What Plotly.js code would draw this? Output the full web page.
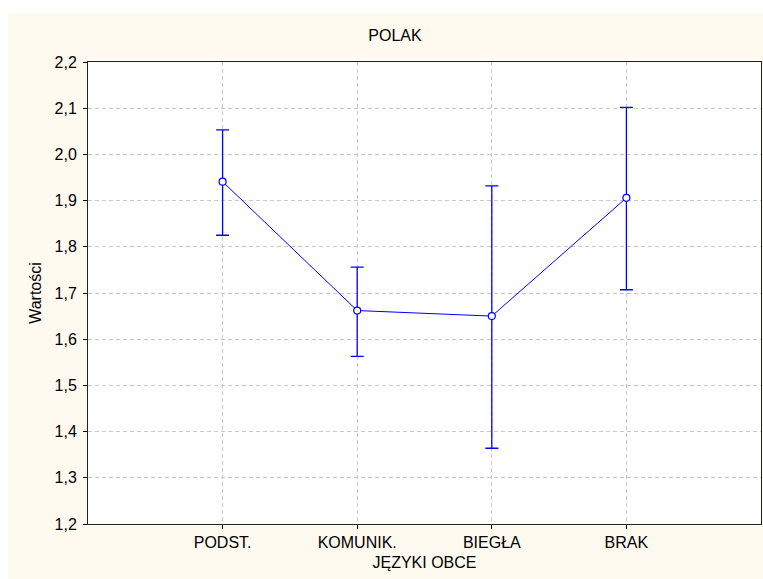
<!DOCTYPE html>
<html>
<head>
<meta charset="utf-8">
<script src="https://cdn.plot.ly/plotly-3.0.1.min.js"></script>
<style>html,body{margin:0;padding:0;background:#fff;}#chart{width:763px;height:579px;}</style>
</head>
<body>
<div id="chart"></div>
<script>
const categories = ["PODST.", "KOMUNIK.", "BIEGŁA", "BRAK"];
const catPositions = [1, 2, 3, 4];
const means = [1.941, 1.662, 1.650, 1.906];
const upper = [2.053, 1.756, 1.932, 2.102];
const lower = [1.825, 1.563, 1.364, 1.707];
const yTicks = [1.2, 1.3, 1.4, 1.5, 1.6, 1.7, 1.8, 1.9, 2.0, 2.1, 2.2];
const yTickText = ["1,2", "1,3", "1,4", "1,5", "1,6", "1,7", "1,8", "1,9", "2,0", "2,1", "2,2"];

const errPlus = upper.map((u, i) => u - means[i]);
const errMinus = lower.map((l, i) => means[i] - l);

const blue = "#0000ff";
const font = "Liberation Sans, Arial, sans-serif";
const fs = 16;

const trace = {
  x: catPositions,
  y: means,
  type: "scatter",
  mode: "lines+markers",
  line: {color: blue, width: 1},
  marker: {symbol: "circle", size: 7, color: "#ffffff", line: {width: 1.2, color: blue}},
  error_y: {type: "data", symmetric: false, array: errPlus, arrayminus: errMinus,
            color: blue, thickness: 1.3, width: 6.5},
  showlegend: false,
  hoverinfo: "x+y"
};

const W = 673, H = 462;
const layout = {
  width: 763, height: 579,
  margin: {l: 88, r: 2, t: 62, b: 55},
  paper_bgcolor: "#fefaf0",
  plot_bgcolor: "#ffffff",
  font: {family: font, size: fs, color: "#000"},
  title: {text: "POLAK", font: {family: font, size: fs, color: "#000"},
          x: 395/763, xanchor: "center", y: 1 - 35/579, yanchor: "middle", yref: "container"},
  xaxis: {
    range: [0, 5],
    tickvals: catPositions, ticktext: categories,
    showgrid: true, gridcolor: "#c8c8c8", griddash: "4px,3px", gridwidth: 1,
    zeroline: false,
    showline: true, linecolor: "#222", linewidth: 1, mirror: true,
    ticks: "outside", ticklen: 4, tickcolor: "#000",
    tickfont: {family: font, size: fs},
    title: {text: "JĘZYKI OBCE", font: {family: font, size: fs}, standoff: 6},
    automargin: false,
    fixedrange: true
  },
  yaxis: {
    range: [1.2, 2.2],
    tickvals: yTicks, ticktext: yTickText,
    showgrid: true, gridcolor: "#c8c8c8", griddash: "4px,3px", gridwidth: 1,
    zeroline: false,
    showline: true, linecolor: "#222", linewidth: 1, mirror: true,
    ticks: "outside", ticklen: 4, tickcolor: "#000",
    tickfont: {family: font, size: fs},
    ticklabelstandoff: 3,
    title: {text: "Wartości", font: {family: font, size: fs}, standoff: 8},
    automargin: false,
    fixedrange: true
  },
  shapes: [
    {type: "rect", xref: "paper", yref: "paper", layer: "below",
     x0: -88/W, x1: 675/W, y0: (524-13)/H, y1: 524/H + 0.01,
     fillcolor: "#ffffff", line: {width: 0}},
    {type: "rect", xref: "paper", yref: "paper", layer: "below",
     x0: -88/W - 0.01, x1: -80/W, y0: -55/H - 0.01, y1: 524/H + 0.01,
     fillcolor: "#ffffff", line: {width: 0}}
  ]
};

Plotly.newPlot("chart", [trace], layout, {displayModeBar: false, staticPlot: true});
</script>
</body>
</html>
